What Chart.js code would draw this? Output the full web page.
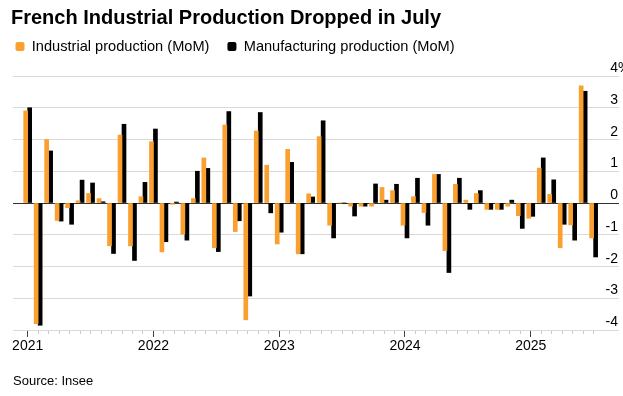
<!DOCTYPE html>
<html>
<head>
<meta charset="utf-8">
<script src="https://cdn.jsdelivr.net/npm/chart.js@4.4.1/dist/chart.umd.min.js"></script>
<style>
  html, body { margin: 0; padding: 0; background: #fff; }
  canvas { display: block; }
</style>
</head>
<body>
<canvas id="chart" width="623" height="396"></canvas>
<script>
// ---- Data ----
const categories = [
  '2021-01','2021-02','2021-03','2021-04','2021-05','2021-06','2021-07','2021-08','2021-09','2021-10','2021-11','2021-12',
  '2022-01','2022-02','2022-03','2022-04','2022-05','2022-06','2022-07','2022-08','2022-09','2022-10','2022-11','2022-12',
  '2023-01','2023-02','2023-03','2023-04','2023-05','2023-06','2023-07','2023-08','2023-09','2023-10','2023-11','2023-12',
  '2024-01','2024-02','2024-03','2024-04','2024-05','2024-06','2024-07','2024-08','2024-09','2024-10','2024-11','2024-12',
  '2025-01','2025-02','2025-03','2025-04','2025-05','2025-06','2025-07'
];
const industrial = [
  2.9, -3.8, 2.0, -0.55, -0.15, 0.07, 0.3, 0.14, -1.35, 2.14, -1.35, 0.2,
  1.93, -1.54, -0.04, -0.98, 0.14, 1.42, -1.41, 2.46, -0.9, -3.68, 2.27, 1.19,
  -1.29, 1.69, -1.6, 0.29, 2.09, -0.7, 0.0, -0.1, -0.1, -0.1, 0.49, 0.39,
  -0.7, 0.2, -0.3, 0.9, -1.5, 0.59, 0.09, 0.3, -0.2, -0.2, -0.1, -0.4,
  -0.48, 1.1, 0.27, -1.41, -0.69, 3.69, -1.1
];
const manufacturing = [
  3.0, -3.85, 1.64, -0.57, -0.67, 0.72, 0.63, 0.04, -1.59, 2.48, -1.81, 0.65,
  2.33, -1.22, 0.03, -1.17, 1.0, 1.09, -1.53, 2.88, -0.56, -2.93, 2.85, -0.31,
  -0.92, 1.28, -1.6, 0.19, 2.59, -1.1, 0.0, -0.41, -0.1, 0.6, 0.09, 0.59,
  -1.1, 0.78, -0.7, 0.9, -2.19, 0.78, -0.2, 0.39, -0.2, -0.2, 0.09, -0.8,
  -0.42, 1.42, 0.73, -0.67, -1.17, 3.52, -1.7
];
const yTickValues = [-4, -3, -2, -1, 0, 1, 2, 3, 4];
const seriesNames = ['Industrial production (MoM)', 'Manufacturing production (MoM)'];
const titleText = 'French Industrial Production Dropped in July';
const sourceText = 'Source: Insee';

// ---- Style ----
const FONT = '"Liberation Sans", Arial, Helvetica, sans-serif';
const ORANGE = '#f9a030';
const BLACK = '#000000';
Chart.defaults.font.family = FONT;
Chart.defaults.color = '#000';

const isJan = (i) => categories[i] !== undefined && categories[i].endsWith('-01');

// Right-side value labels sitting just above each gridline
const yLabelPlugin = {
  id: 'yLabels',
  afterDraw(chart) {
    const s = chart.scales.y;
    const ctx = chart.ctx;
    const xr = chart.chartArea.right - 1;
    ctx.save();
    ctx.font = '14px ' + FONT;
    ctx.fillStyle = '#000';
    ctx.textBaseline = 'alphabetic';
    ctx.textAlign = 'left';
    const top = yTickValues[yTickValues.length - 1];
    s.ticks.forEach(t => {
      const y = s.getPixelForValue(t.value) - 4;
      const num = String(t.value);
      const txt = t.value === top ? num + '%' : num;
      ctx.fillText(txt, xr - ctx.measureText(num).width, y);
    });
    ctx.restore();
  }
};

// Position tweaks for title / legend blocks
const blockShift = {
  id: 'blockShift',
  afterLayout(chart) {
    const lg = chart.legend;
    if (lg) { lg.left -= 15.5; lg.right -= 15.5; lg.top -= 12.2; lg.bottom -= 12.2; }
    const tb = chart.titleBlock;
    if (tb) { tb.left -= 2; tb.right -= 2; }
  }
};

new Chart(document.getElementById('chart'), {
  type: 'bar',
  data: {
    labels: categories.map((_, i) => i),
    datasets: [
      { label: seriesNames[0], data: industrial, backgroundColor: ORANGE, borderWidth: 0, barThickness: 4 },
      { label: seriesNames[1], data: manufacturing, backgroundColor: BLACK, borderWidth: 0, barThickness: 4 }
    ]
  },
  options: {
    responsive: false,
    animation: false,
    events: [],
    layout: { padding: { left: 13, right: 4, top: 0, bottom: 0 } },
    scales: {
      x: {
        type: 'linear',
        offset: false,
        min: -1.4,
        max: 56.42,
        afterBuildTicks: (s) => { s.ticks = categories.map((_, i) => ({ value: i })); },
        ticks: {
          autoSkip: false,
          maxRotation: 0,
          minRotation: 0,
          padding: 1,
          font: { size: 14 },
          color: '#000',
          callback: (v, i) => isJan(i) ? categories[i].slice(0, 4) : ''
        },
        grid: {
          offset: false,
          drawOnChartArea: false,
          drawTicks: true,
          tickLength: 7,
          tickWidth: 1,
          tickColor: (c) => isJan(c.index) ? '#444' : '#c8c8c8',
          tickBorderDash: (c) => isJan(c.index) ? [] : [4, 50]
        },
        border: { display: false }
      },
      y: {
        position: 'right',
        min: -4,
        max: 4,
        afterBuildTicks: (s) => { s.ticks = yTickValues.map(v => ({ value: v })); },
        ticks: { display: false },
        grid: {
          drawTicks: false,
          lineWidth: 1,
          color: (c) => (c.tick && c.tick.value === 0) ? '#333' : '#dadada'
        },
        border: { display: false }
      }
    },
    plugins: {
      title: {
        display: true,
        text: titleText,
        align: 'start',
        color: '#000',
        font: { size: 20, weight: 'bold' },
        padding: { top: 6.6, bottom: 2.8 }
      },
      legend: {
        display: true,
        position: 'top',
        align: 'start',
        labels: {
          boxWidth: 9,
          boxHeight: 9,
          padding: 18,
          color: '#000',
          font: { size: 14.6 },
          useBorderRadius: true,
          borderRadius: 2
        }
      },
      subtitle: {
        display: true,
        position: 'bottom',
        align: 'start',
        text: sourceText,
        color: '#000',
        font: { size: 13 },
        padding: { top: 17.9, bottom: 6.7 }
      },
      tooltip: { enabled: false }
    }
  },
  plugins: [yLabelPlugin, blockShift]
});
</script>
</body>
</html>
